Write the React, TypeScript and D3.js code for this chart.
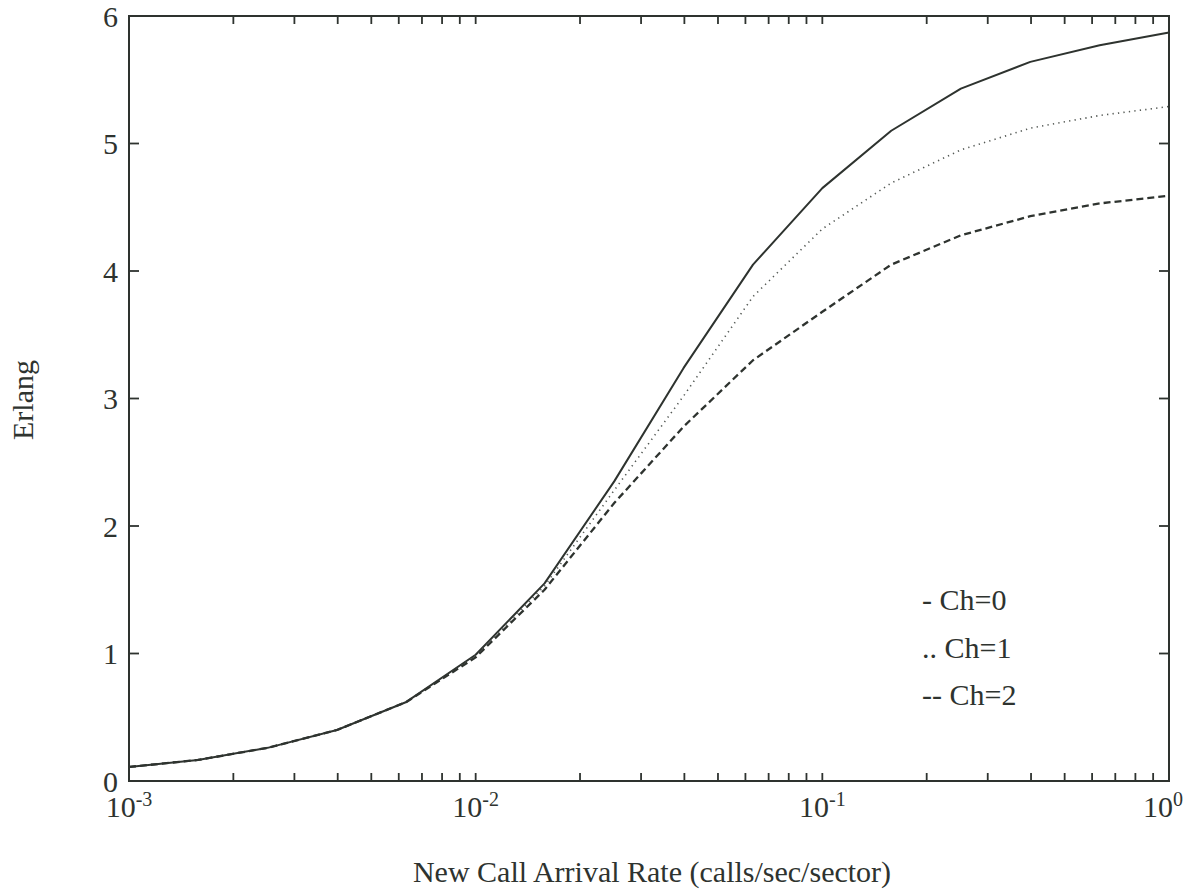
import React from "react";
import * as d3 from "d3";

// Arrival rates (calls/sec/sector), 0.2-decade steps
const rates = [0.001, 0.00158, 0.00251, 0.00398, 0.00631, 0.01, 0.0158, 0.0251, 0.0398, 0.0631, 0.1, 0.158, 0.251, 0.398, 0.631, 1];
// Carried traffic (Erlang) for each number of guard channels
const ch0 = [0.11, 0.165, 0.26, 0.4, 0.62, 0.99, 1.55, 2.35, 3.24, 4.05, 4.65, 5.1, 5.43, 5.64, 5.77, 5.87];
const ch1 = [0.11, 0.165, 0.26, 0.4, 0.62, 0.98, 1.53, 2.28, 3.02, 3.8, 4.33, 4.69, 4.95, 5.12, 5.22, 5.29];
const ch2 = [0.11, 0.165, 0.26, 0.4, 0.62, 0.97, 1.5, 2.18, 2.78, 3.3, 3.68, 4.05, 4.28, 4.43, 4.53, 4.59];

const legendLabels = ["- Ch=0", ".. Ch=1", "-- Ch=2"];
const yTicks = [0, 1, 2, 3, 4, 5, 6];
const xMajorExps = [-3, -2, -1, 0];

const W = 1193;
const H = 889;
const M = { left: 129, right: 1169, top: 16, bottom: 781 };
const FONT = "'Liberation Serif', 'Times New Roman', serif";
const INK = "#2e332f";

export default function App() {
  const x = d3.scaleLog().domain([1e-3, 1]).range([M.left, M.right]);
  const y = d3.scaleLinear().domain([0, 6]).range([M.bottom, M.top]);

  const line = d3
    .line<number>()
    .x((_, i) => x(rates[i]))
    .y((v) => y(v));

  const series = [
    { values: ch0, dash: undefined as string | undefined, width: 2, color: INK },
    { values: ch1, dash: "1.3,4.2", width: 1.6, color: "#555a56" },
    { values: ch2, dash: "7,4", width: 2.3, color: INK },
  ];

  // minor ticks: 2..9 × 10^k inside the domain
  const minor: number[] = [];
  for (let e = -3; e < 0; e++) {
    for (let m = 2; m <= 9; m++) minor.push(m * Math.pow(10, e));
  }
  const xTickVals = [...minor, 1e-2, 1e-1];

  const xTickLen = 8;
  const yTickLen = 10;

  return (
    <svg
      width={W}
      height={H}
      style={{ position: "absolute", left: 0, top: 0, background: "#fff" }}
      fontFamily={FONT}
    >
      {/* curves */}
      {series.map((s, i) => (
        <path
          key={i}
          d={line(s.values) || ""}
          fill="none"
          stroke={s.color}
          strokeWidth={s.width}
          strokeDasharray={s.dash}
          strokeLinejoin="round"
        />
      ))}

      {/* x ticks, top and bottom, pointing inward */}
      {xTickVals.map((t, i) => (
        <g key={i} stroke={INK} strokeWidth={1.8}>
          <line x1={x(t)} x2={x(t)} y1={M.bottom} y2={M.bottom - xTickLen} />
          <line x1={x(t)} x2={x(t)} y1={M.top} y2={M.top + xTickLen} />
        </g>
      ))}

      {/* y ticks, left and right */}
      {yTicks.slice(1, -1).map((t) => (
        <g key={t} stroke={INK} strokeWidth={1.8}>
          <line x1={M.left} x2={M.left + yTickLen} y1={y(t)} y2={y(t)} />
          <line x1={M.right} x2={M.right - yTickLen} y1={y(t)} y2={y(t)} />
        </g>
      ))}

      {/* frame */}
      <rect
        x={M.left}
        y={M.top}
        width={M.right - M.left}
        height={M.bottom - M.top}
        fill="none"
        stroke={INK}
        strokeWidth={2}
      />

      {/* y tick labels */}
      {yTicks.map((t) => (
        <text
          key={t}
          x={M.left - 11}
          y={y(t)}
          textAnchor="end"
          dominantBaseline="central"
          fontSize={30}
          fill={INK}
        >
          {t}
        </text>
      ))}

      {/* x tick labels as powers of ten */}
      {xMajorExps.map((e) => (
        <text
          key={e}
          x={x(Math.pow(10, e)) + (e === 0 ? -6 : 0)}
          y={817}
          textAnchor="middle"
          fontSize={30}
          fill={INK}
        >
          <tspan>10</tspan>
          <tspan fontSize={20} dy={-11}>
            {String(e)}
          </tspan>
        </text>
      ))}

      {/* axis titles */}
      <text x={652} y={882} textAnchor="middle" fontSize={30} fill={INK}>
        New Call Arrival Rate (calls/sec/sector)
      </text>
      <text
        transform={`translate(33,400) rotate(-90)`}
        textAnchor="middle"
        fontSize={30}
        fill={INK}
      >
        Erlang
      </text>

      {/* legend */}
      {legendLabels.map((l, i) => (
        <text key={l} x={922} y={610 + i * 47.5} fontSize={30} fill={INK}>
          {l}
        </text>
      ))}
    </svg>
  );
}
